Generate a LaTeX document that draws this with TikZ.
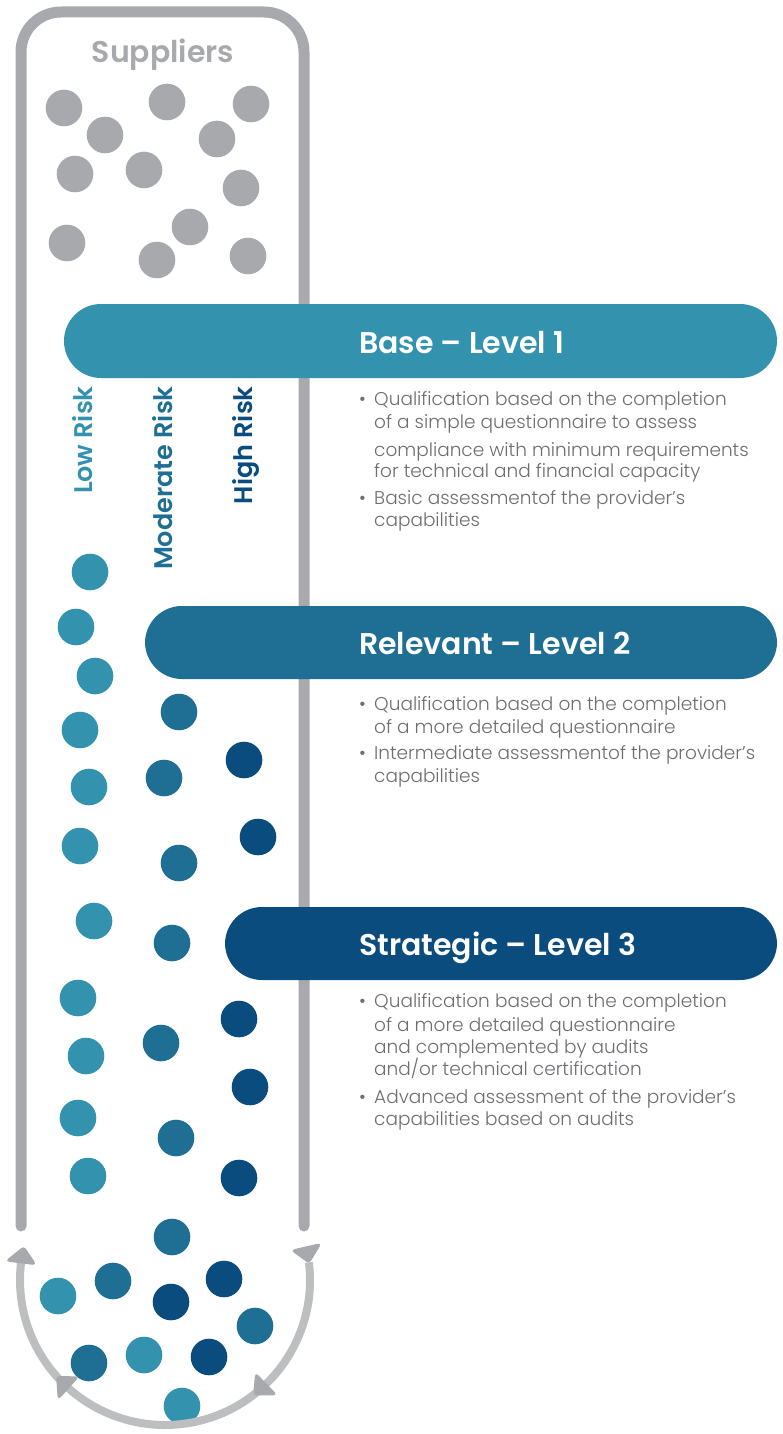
\documentclass[tikz,border=0pt]{standalone}
\usepackage{fontspec}
\setmainfont{Poppins}[UprightFont=* Light, BoldFont=* SemiBold]
\definecolor{tubegray}{HTML}{A7A9AC}
\definecolor{arcgray}{HTML}{BCBEC0}
\definecolor{lowc}{HTML}{3393AE}
\definecolor{modc}{HTML}{1F6E93}
\definecolor{highc}{HTML}{0B4C7E}
\definecolor{txtgray}{HTML}{6D6E71}
\tikzset{
  tube/.style={draw=tubegray, line width=11pt, line cap=round, rounded corners=40pt},
  sdot/.style={fill=tubegray},
  ldot/.style={fill=lowc},
  mdot/.style={fill=modc},
  hdot/.style={fill=highc},
  band/.style={rounded corners=37pt},
  bandtitle/.style={text=white, font=\fontsize{30}{34}\selectfont\bfseries, anchor=base west, inner sep=0pt},
  body/.style={text=txtgray, font=\fontsize{18.5}{22}\selectfont, anchor=base west, inner sep=0pt},
  risk/.style={font=\fontsize{25.5}{30}\selectfont\bfseries, rotate=90, anchor=base east, inner sep=0pt},
  cyc/.style={draw=arcgray, line width=8pt},
  head/.style={fill=tubegray, draw=tubegray, line width=2pt, rounded corners=2.5pt}
}
\newcommand{\cychead}[1]{\fill[head] (#1:145) -- (#1-6:159) -- (#1-6:131) -- cycle;}
\begin{document}
\begin{tikzpicture}[x=1pt, y=-1pt]
\useasboundingbox (0,0) rectangle (782,1434);
% tube
\draw[tube] (21,1226) -- (21,12) -- (304,12) -- (304,1226);
% suppliers
\node (sup) [text=tubegray, font=\fontsize{30}{34}\selectfont\bfseries, anchor=base, inner sep=0pt] at (163,63) {Suppliers};
\foreach \p in {(64,108),(105,135),(167,102),(251,104),(217,139),(75,174),(144,170),(241,188),(67,243),(190,227),(157,260),(248,256)}
  \fill[sdot] \p circle (18.3);
% bands
\fill[band, lowc] (64,304) rectangle (777,378);
\fill[band, modc] (145,606) rectangle (777,679);
\fill[band, highc] (225,907) rectangle (777,980);
\node (t1) [bandtitle] at (359,353) {Base – Level 1};
\node (t2) [bandtitle] at (359,654) {Relevant – Level 2};
\node (t3) [bandtitle] at (359,955) {Strategic – Level 3};
% risk labels
\node (rl) [risk, text=lowc] at (92,386) {Low Risk};
\node (rm) [risk, text=modc] at (172,386) {Moderate Risk};
\node (rh) [risk, text=highc] at (252,386) {High Risk};
% body text level 1
\node (b1) [body] at (359,405) {•};
\node (a1) [body] at (374,405) {Qualification based on the completion};
\node (a2) [body] at (374,428) {of a simple questionnaire to assess};
\node (a3) [body] at (374,456) {compliance with minimum requirements};
\node (a4) [body] at (374,477) {for technical and financial capacity};
\node (b2) [body] at (359,504) {•};
\node (a5) [body] at (374,504) {Basic assessmentof the provider's};
\node (a6) [body] at (374,526) {capabilities};
% body text level 2
\node (b3) [body] at (359,710) {•};
\node (c1) [body] at (374,710) {Qualification based on the completion};
\node (c2) [body] at (374,733) {of a more detailed questionnaire};
\node (b4) [body] at (359,759) {•};
\node (c3) [body] at (374,759) {Intermediate assessmentof the provider's};
\node (c4) [body] at (374,782) {capabilities};
% body text level 3
\node (b5) [body] at (359,1007) {•};
\node (d1) [body] at (374,1007) {Qualification based on the completion};
\node (d2) [body] at (374,1031) {of a more detailed questionnaire};
\node (d3) [body] at (374,1053) {and complemented by audits};
\node (d4) [body] at (374,1075) {and/or technical certification};
\node (b6) [body] at (359,1103) {•};
\node (d5) [body] at (374,1103) {Advanced assessment of the provider's};
\node (d6) [body] at (374,1125) {capabilities based on audits};
% dots
\foreach \p in {(90,572),(76,627),(95,676),(80,730),(89,787),(80,846),(94,921),(78,998),(86,1056),(78,1118),(88,1176),(58,1296),(144,1355),(182,1406)}
  \fill[ldot] \p circle (18.3);
\foreach \p in {(179,712),(164,778),(179,863),(172,943),(161,1043),(176,1138),(172,1237),(113,1281),(255,1326),(89,1363)}
  \fill[mdot] \p circle (18.3);
\foreach \p in {(244,760),(258,837),(239,1019),(250,1087),(239,1178),(171,1302),(224,1279),(209,1357)}
  \fill[hdot] \p circle (18.3);
% cycle arc with heads
\begin{scope}[shift={(165,1280)}]
  \draw[cyc] (-7:145) arc[start angle=-7, end angle=188, radius=145];
  \cychead{-7}
  \cychead{52}
  \cychead{138}
  \cychead{193}
\end{scope}
\end{tikzpicture}
\end{document}
